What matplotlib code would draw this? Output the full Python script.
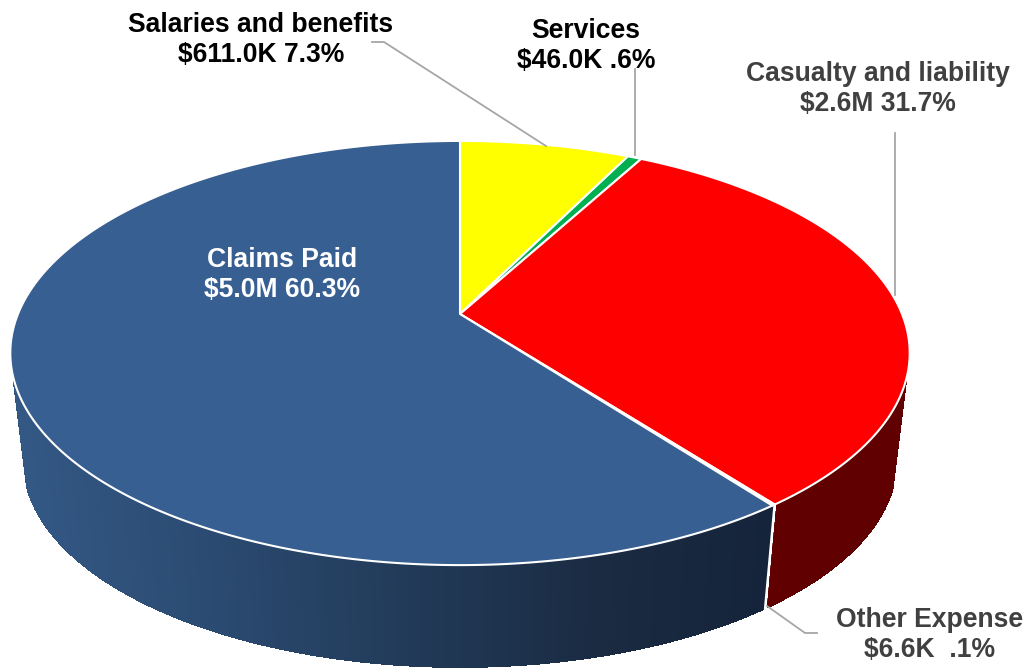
import numpy as np
import matplotlib
matplotlib.use('Agg')
import matplotlib.pyplot as plt
from matplotlib.collections import PolyCollection

plt.rcParams['font.family'] = ['Liberation Sans', 'DejaVu Sans']

# clockwise from 12 o'clock
categories = ['Salaries and benefits', 'Services', 'Casualty and liability', 'Other Expense', 'Claims Paid']
amounts = ['$611.0K', '$46.0K', '$2.6M', '$6.6K ', '$5.0M']
shares = [7.3, 0.6, 31.7, 0.1, 60.3]
pct_labels = ['7.3%', '.6%', '31.7%', '.1%', '60.3%']
top_colors = ['#FFFF00', '#00B050', '#FF0000', '#FFFFFF', '#375F92']
label_colors = ['black', 'black', '#404040', '#404040', 'white']
label_pos = [(261, 40), (586, 46), (878, 89), (930, 635), (282, 275)]

# perspective of the disc, in pixels
cx, cy = 460, 314
B, A, k = 442.0, 204.9, 0.184
wall_scale, wall_drop = 0.97, 109.0


def top_xy(t):
    x, y = np.sin(t), np.cos(t)
    d = 1 + k * y
    return cx + B * x / d, cy - A * y / d


def low_xy(t):
    x, y = top_xy(t)
    return cx + wall_scale * (x - cx), cy + wall_drop + wall_scale * (y - cy)


def blue_wall(x):
    r = np.interp(x, [20, 200, 400, 600, 770], [0x33, 0x2B, 0x22, 0x1A, 0x15]) / 255
    g = np.interp(x, [20, 200, 400, 600, 770], [0x58, 0x4B, 0x3B, 0x2B, 0x24]) / 255
    b = np.interp(x, [20, 200, 400, 600, 770], [0x84, 0x72, 0x59, 0x42, 0x3A]) / 255
    return np.column_stack([r, g, b])


fig = plt.figure(figsize=(10.29, 6.68), dpi=100)
ax = fig.add_axes([0, 0, 1, 1])
ax.set_xlim(0, 1029)
ax.set_ylim(668, 0)
ax.axis('off')

edges = np.radians(np.concatenate([[0], np.cumsum(shares)]) / sum(shares) * 360)

# walls first, only the front part shows
for i in range(len(shares)):
    t = np.linspace(edges[i], edges[i + 1], max(3, int(shares[i] * 8)))
    x1, y1 = top_xy(t)
    x2, y2 = low_xy(t)
    front = [j for j in range(len(t) - 1) if y1[j] > 380 and y1[j + 1] > 380]
    if not front:
        continue
    polys = [[(x1[j], y1[j]), (x1[j + 1], y1[j + 1]), (x2[j + 1], y2[j + 1]), (x2[j], y2[j])]
             for j in front]
    mid = np.array([(x1[j] + x1[j + 1]) / 2 for j in front])
    if categories[i] == 'Claims Paid':
        cols = blue_wall(mid)
    elif categories[i] == 'Casualty and liability':
        cols = ['#600000'] * len(polys)
    else:
        cols = ['#FFFFFF'] * len(polys)
    ax.add_collection(PolyCollection(polys, facecolors=cols, edgecolors=cols, linewidths=1.2,
                                     antialiased=False, zorder=2))

# white seam between the walls
tb = edges[3]
xa, ya = top_xy(tb)
xb, yb = low_xy(tb)
ax.plot([xa, xb], [ya, yb], color='white', lw=1.8, zorder=3)

# top of the pie
for i in range(len(shares)):
    t = np.linspace(edges[i], edges[i + 1], max(3, int(shares[i] * 8)))
    x, y = top_xy(t)
    ax.fill(np.r_[cx, x], np.r_[cy, y], facecolor=top_colors[i], edgecolor='white', lw=1.5,
            joinstyle='round', zorder=4)

# leader lines
leaders = [([372, 384, 546], [42, 42, 146]),
           ([635, 635], [69, 155]),
           ([895, 895], [133, 295]),
           ([767, 805, 817], [606, 633, 633])]
for lx, ly in leaders:
    ax.plot(lx, ly, color='#A6A6A6', lw=1.3, zorder=5)

for i in range(len(categories)):
    second = amounts[i] + ' ' + pct_labels[i]
    ax.text(label_pos[i][0], label_pos[i][1], categories[i] + '\n' + second, color=label_colors[i],
            fontsize=19.1, fontweight='bold', ha='center', va='center', linespacing=1.2, zorder=6)

fig.savefig('out.png', dpi=100)
